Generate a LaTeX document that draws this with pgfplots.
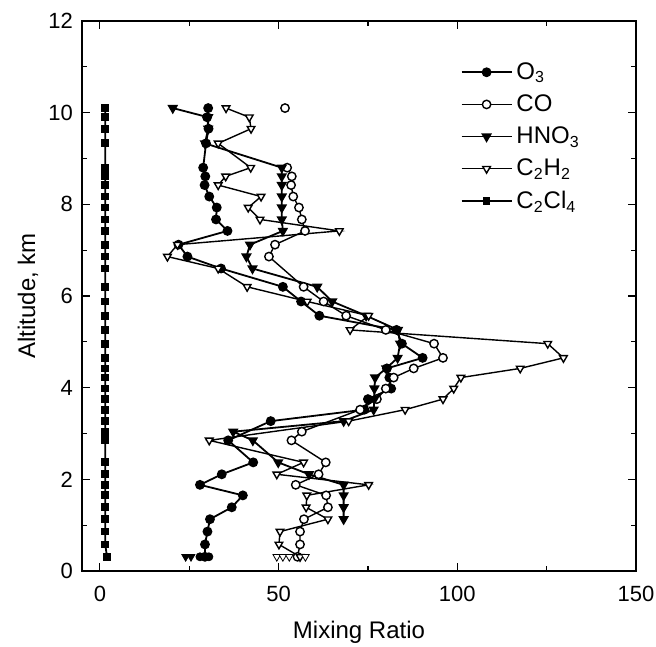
\documentclass[border=0pt]{standalone}
\usepackage{fontspec}
\setmainfont{Liberation Sans}
\usepackage{pgfplots}
\pgfplotsset{compat=1.18}
\begin{document}
\begin{tikzpicture}
\begin{axis}[
  scale only axis, width=277pt, height=275pt,
  xmin=-5, xmax=150, ymin=0, ymax=12,
  xtick={0,50,100,150}, minor xtick={25,75,125},
  ytick={0,2,...,12}, minor ytick={1,3,...,11},
  tick align=inside,
  major tick length=4pt, minor tick length=2.5pt,
  every tick/.style={black, line width=0.6pt},
  axis line style={line width=1pt},
  /pgf/number format/assume math mode=true,
  ticklabel style={font=\fontsize{11}{13}\selectfont},
  xticklabel style={yshift=-4pt},
  yticklabel style={xshift=-1pt},
  xlabel={Mixing Ratio}, ylabel={Altitude,  km},
  label style={font=\fontsize{12}{14}\selectfont},
  xlabel style={at={(axis description cs:0.5,-0.111)}, anchor=center},
  ylabel style={at={(axis description cs:-0.0975,0.5)}, anchor=center},
  unbounded coords=jump,
  legend cell align=left,
  legend style={draw=none, fill=none, at={(axis description cs:0.672,0.94)}, anchor=north west,
    font=\fontsize{12}{14}\selectfont, row sep=2.2pt},
  legend image code/.code={\draw[mark repeat=2,mark phase=2] plot coordinates {(0pt,0pt) (12.5pt,0pt) (25pt,0pt)};},
]
% O3
\addplot[black, line width=0.9pt, mark=*, mark size=2pt] coordinates {
(30.3,10.1) (30.0,9.9) (30.4,9.65) (29.7,9.33) (28.9,8.8) (29.5,8.61) (29.3,8.42) (30.6,8.17)
(32.7,7.93) (32.5,7.67) (35.7,7.42) (22.0,7.12) (24.5,6.86) (33.9,6.6) (51.2,6.2) (56.3,5.88)
(61.4,5.57) (83.0,5.26) (84.5,4.96) (90.3,4.65) (80.3,4.42) (81.0,4.22) (81.5,3.98) (75.0,3.75)
(74.0,3.52) (47.8,3.27) (35.9,2.85) (42.9,2.37) (34.1,2.11) (28.0,1.88) (40.0,1.65) (36.9,1.39)
(30.8,1.13) (30.1,0.86) (29.4,0.58) (29.4,0.31)
};
\addlegendentry{O\textsubscript{3}}
% CO
\addplot[black, line width=0.7pt, mark=*, mark size=2.1pt, mark options={fill=white}] coordinates {
(51.8,10.1) (nan,9.5)
(52.4,8.8) (53.7,8.61) (53.5,8.42) (54.1,8.17) (55.7,7.93) (56.5,7.67) (57.4,7.42) (49.0,7.12)
(47.3,6.86) (57.0,6.2) (62.6,5.88) (68.9,5.57) (80.0,5.26) (93.5,4.96) (96.0,4.65) (87.8,4.42)
(82.2,4.22) (80.0,3.98) (77.5,3.75) (72.8,3.52) (56.5,3.04) (53.6,2.85) (63.2,2.37) (61.2,2.11)
(54.8,1.88) (63.3,1.65) (63.8,1.39) (57.1,1.13) (56.0,0.86) (56.0,0.58) (55.3,0.31)
};
\addlegendentry{CO}
% HNO3
\addplot[black, line width=0.9pt, mark=triangle*, mark size=2.2pt, mark options={rotate=180}] coordinates {
(20.4,10.1) (30.3,9.9) (30.3,9.65) (29.4,9.33) (50.9,8.8) (50.9,8.61) (50.9,8.42) (50.9,8.17)
(50.9,7.93) (50.9,7.67) (51.2,7.42) (42.0,7.12) (41.0,6.86) (42.7,6.6) (60.8,6.2) (65.0,5.88)
(74.5,5.57) (83.4,5.26) (84.0,4.96) (83.3,4.65) (80.1,4.42) (77.0,4.22) (76.8,3.98) (76.8,3.75)
(76.6,3.52) (68.2,3.27) (37.3,3.04) (42.8,2.85) (49.9,2.37) (58.5,2.11) (68.2,1.88) (68.2,1.65)
(68.2,1.39) (68.2,1.13)
};
\addlegendentry{HNO\textsubscript{3}}
% C2H2
\addplot[black, line width=0.7pt, mark=triangle*, mark size=2.2pt, mark options={rotate=180, fill=white}] coordinates {
(35.3,10.1) (41.8,9.9) (42.3,9.65) (33.1,9.33) (42.2,8.8) (35.2,8.61) (33.1,8.42) (45.1,8.17)
(41.5,7.93) (44.8,7.67) (67.0,7.42) (21.7,7.12) (18.9,6.86) (33.1,6.6) (41.2,6.2) (58.0,5.88)
(75.2,5.57) (70.0,5.26) (125.3,4.96) (129.7,4.65) (117.6,4.42) (101.0,4.22) (99.0,3.98) (96.0,3.75)
(85.4,3.52) (69.6,3.27) (30.6,2.85) (57.0,2.37) (49.5,2.11) (75.2,1.88) (57.9,1.65) (57.7,1.39)
(63.8,1.13) (50.4,0.86) (50.1,0.58) (56.0,0.31)
};
\addlegendentry{C\textsubscript{2}H\textsubscript{2}}
% C2Cl4
\addplot[black, line width=0.9pt, mark=square*, mark size=1.5pt] coordinates {
(1.5,10.1) (1.5,9.9) (1.5,9.65) (1.5,9.33) (1.5,8.8) (1.5,8.61) (1.5,8.42) (1.5,8.17)
(1.5,7.93) (1.5,7.67) (1.5,7.42) (1.5,7.12) (1.5,6.86) (1.5,6.6) (1.5,6.2) (1.5,5.88)
(1.5,5.57) (1.5,5.26) (1.5,4.96) (1.5,4.65) (1.5,4.42) (1.5,4.22) (1.5,3.98) (1.5,3.75)
(1.5,3.52) (1.5,3.27) (1.5,3.04) (1.5,2.85) (1.5,2.37) (1.5,2.11) (1.5,1.88) (1.5,1.65)
(1.5,1.39) (1.5,1.13) (1.5,0.86) (1.5,0.58) (2.0,0.31)
};
\addlegendentry{C\textsubscript{2}Cl\textsubscript{4}}
% extra points at the lowest level (marks only)
\addplot[black, only marks, mark=*, mark size=2pt, forget plot] coordinates {(28.0,0.31) (30.5,0.31)};
\addplot[black, only marks, mark=triangle*, mark size=2.2pt, mark options={rotate=180}, forget plot] coordinates {(24.0,0.31) (25.5,0.31)};
\addplot[black, only marks, mark=triangle*, mark size=2.2pt, mark options={rotate=180, fill=white}, forget plot] coordinates {(49.5,0.31) (51.2,0.31) (53.0,0.31) (57.5,0.31)};
\end{axis}
\pgfresetboundingbox
\path ([xshift=-41pt,yshift=-37.5pt]current axis.south west) rectangle ([xshift=10pt,yshift=10.5pt]current axis.north east);
\end{tikzpicture}
\end{document}
